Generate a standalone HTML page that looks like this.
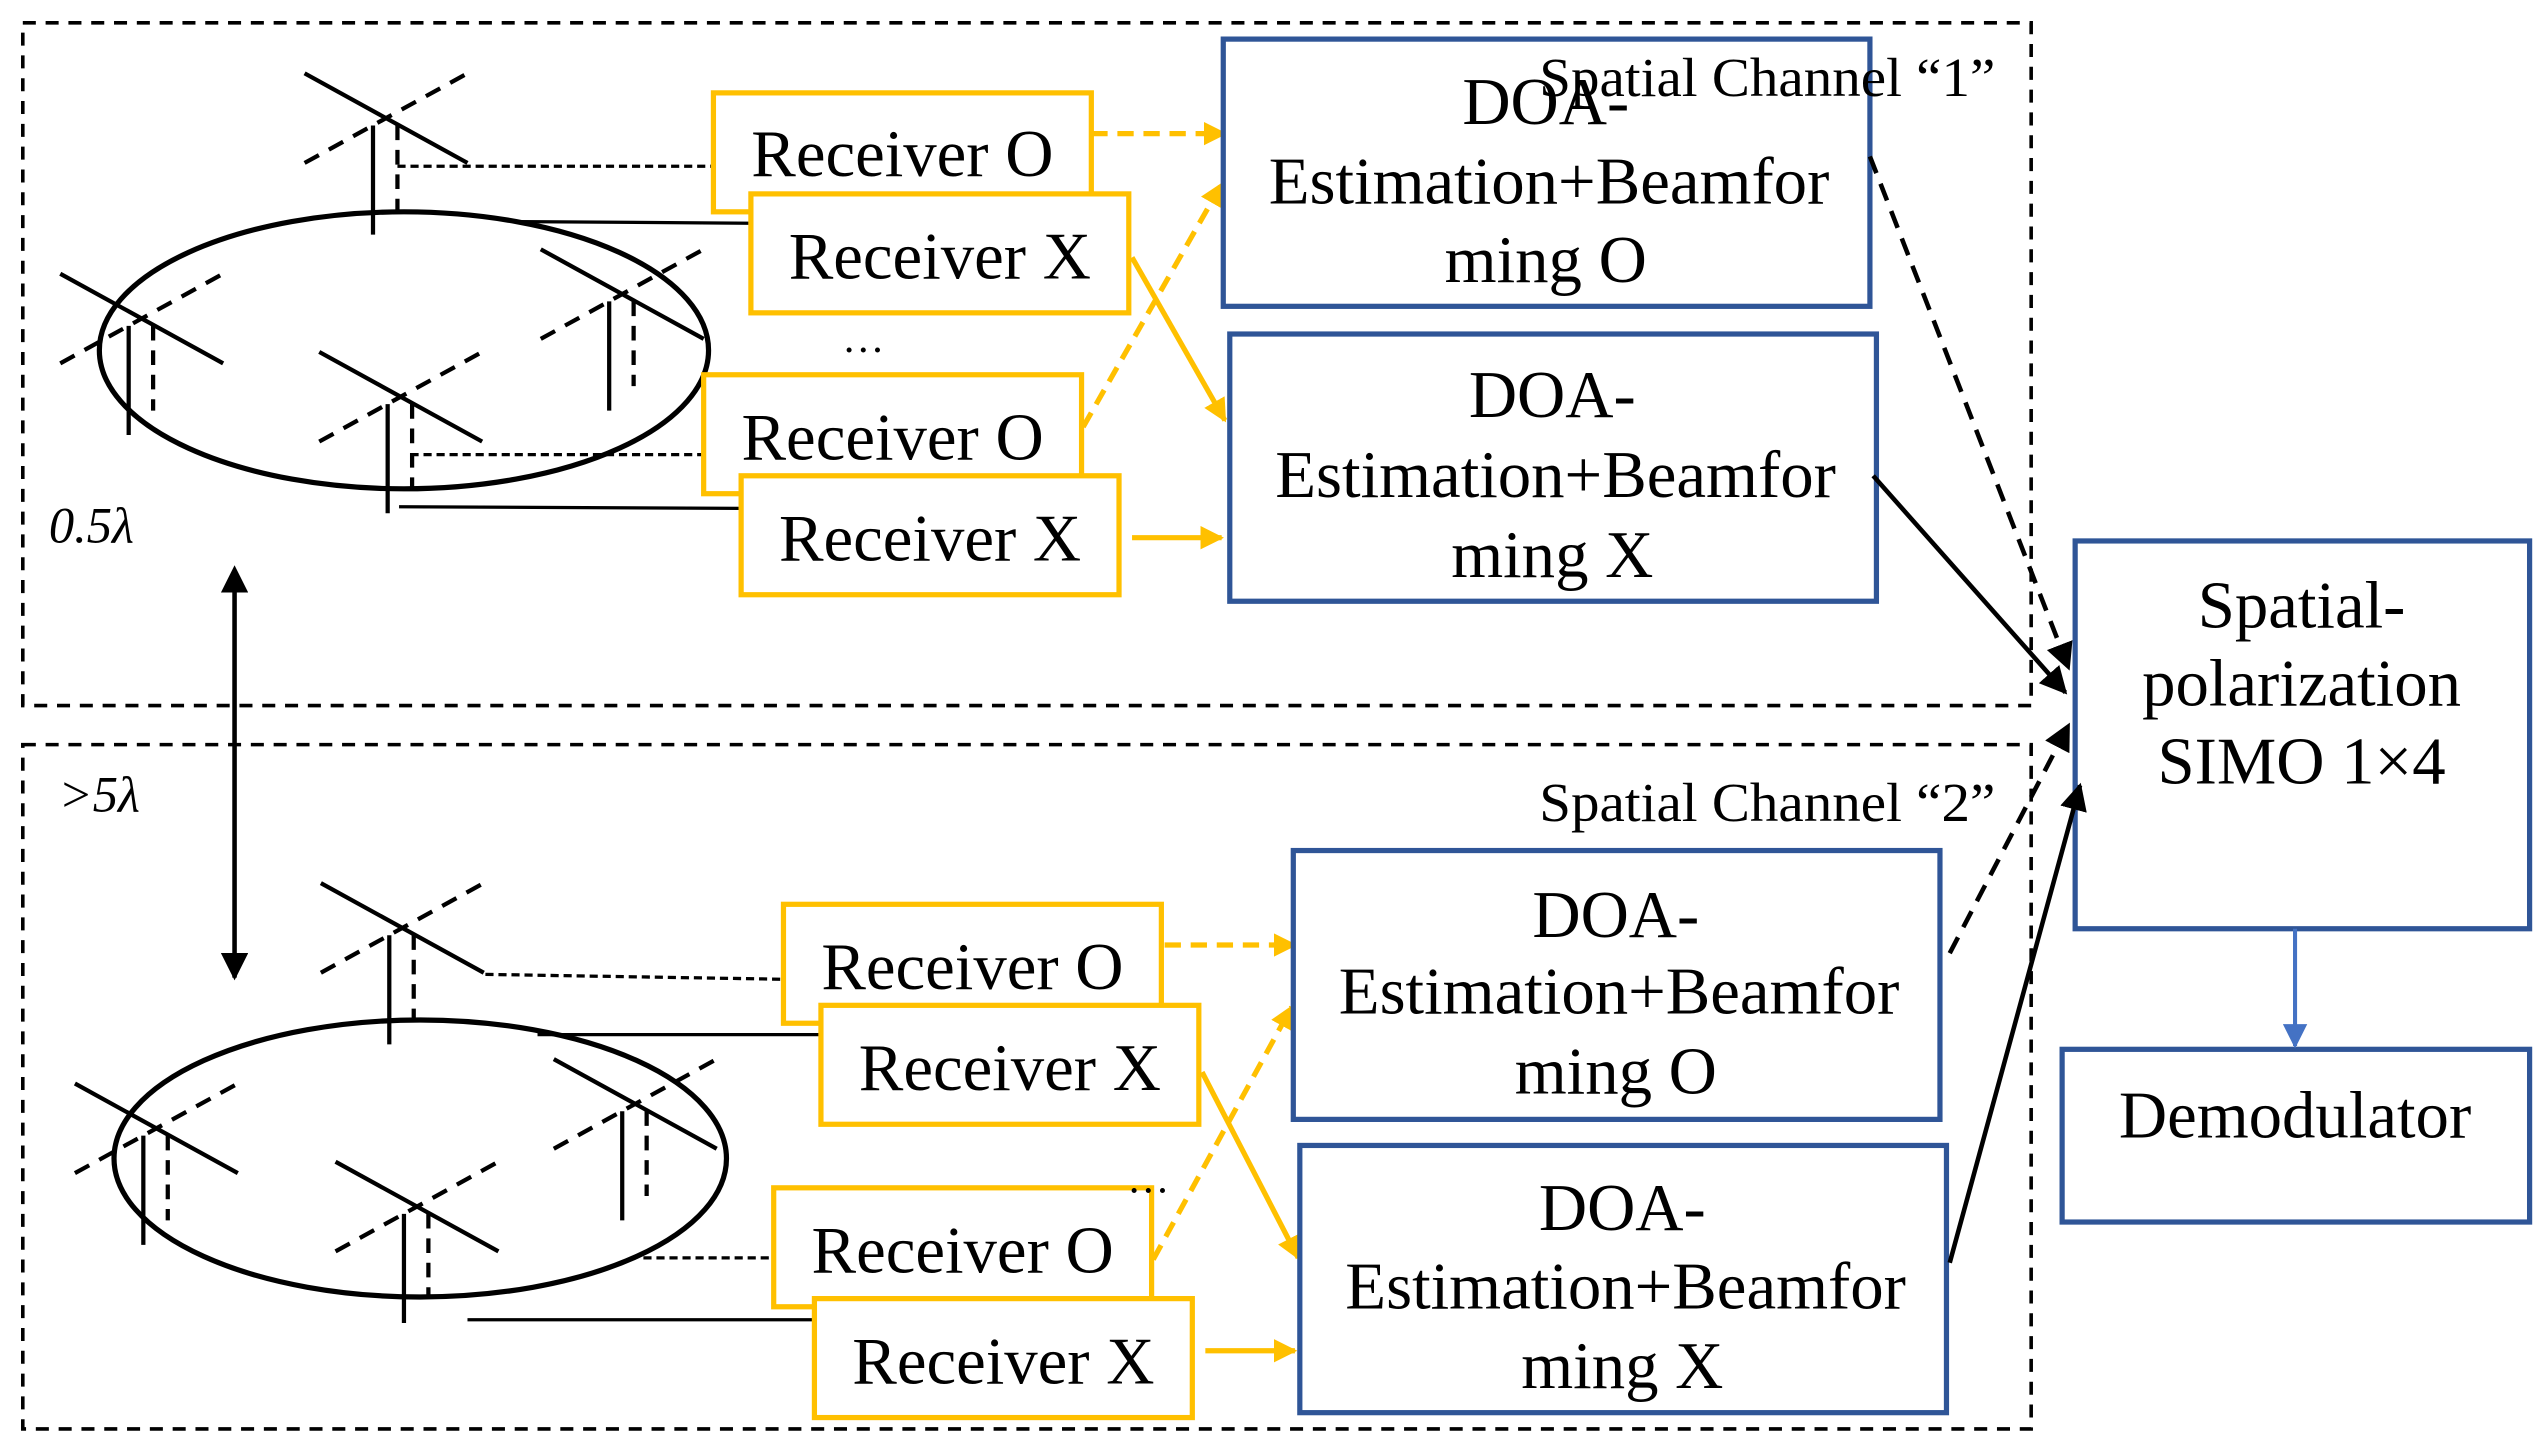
<!DOCTYPE html>
<html><head><meta charset="utf-8"><style>
html,body{margin:0;padding:0;background:#fff;width:2541px;height:1442px;overflow:hidden}
svg{display:block}
text{font-family:"Liberation Serif",serif;fill:#000}
</style></head><body>
<svg width="2541" height="1442" viewBox="0 0 1560 885" preserveAspectRatio="none" xmlns="http://www.w3.org/2000/svg">
<defs>
<marker id="ay" viewBox="0 0 10 10" refX="9" refY="5" markerWidth="4.5" markerHeight="4.5" orient="auto" markerUnits="strokeWidth"><path d="M0,0L10,5L0,10z" fill="#FFC000"/></marker>
<marker id="ab" viewBox="0 0 10 10" refX="9" refY="5" markerWidth="6" markerHeight="6" orient="auto" markerUnits="strokeWidth"><path d="M0,0L10,5L0,10z" fill="#000"/></marker>
<marker id="abs" viewBox="0 0 10 10" refX="1" refY="5" markerWidth="6" markerHeight="6" orient="auto-start-reverse" markerUnits="strokeWidth"><path d="M0,0L10,5L0,10z" fill="#000"/></marker>
<marker id="abl" viewBox="0 0 10 10" refX="9" refY="5" markerWidth="6" markerHeight="6" orient="auto" markerUnits="strokeWidth"><path d="M0,0L10,5L0,10z" fill="#4472C4"/></marker>
<g id="ant" stroke="#000" stroke-width="2.6" fill="none">
<line x1="-50" y1="-27" x2="50" y2="28"/>
<line x1="-50" y1="28" x2="50" y2="-27" stroke-dasharray="10,7"/>
<line x1="-8" y1="5" x2="-8" y2="72"/>
<line x1="7" y1="5" x2="7" y2="57" stroke-dasharray="9,6"/>
</g>
</defs>

<rect x="14" y="14" width="1233" height="419" fill="none" stroke="#000" stroke-width="2.2" stroke-dasharray="8,6"/>
<rect x="14" y="457" width="1233" height="420" fill="none" stroke="#000" stroke-width="2.2" stroke-dasharray="8,6"/>

<ellipse cx="248" cy="215" rx="187" ry="85" fill="none" stroke="#000" stroke-width="3.2"/>
<use href="#ant" x="237" y="72"/>
<use href="#ant" x="87" y="195"/>
<use href="#ant" x="246" y="243"/>
<use href="#ant" x="382" y="180"/>
<g stroke="#000" stroke-width="2" fill="none">
<line x1="244" y1="102" x2="438" y2="102" stroke-dasharray="5,3"/>
<line x1="320" y1="136" x2="461" y2="137"/>
<line x1="252" y1="279" x2="432" y2="279" stroke-dasharray="5,3"/>
<line x1="245" y1="311" x2="455" y2="312"/>
</g>

<ellipse cx="258" cy="711" rx="188" ry="85" fill="none" stroke="#000" stroke-width="3.2"/>
<use href="#ant" x="247" y="569"/>
<use href="#ant" x="96" y="692"/>
<use href="#ant" x="256" y="740"/>
<use href="#ant" x="390" y="677"/>
<g stroke="#000" stroke-width="2" fill="none">
<line x1="298" y1="598" x2="481" y2="601" stroke-dasharray="5,3"/>
<line x1="330" y1="635" x2="504" y2="635"/>
<line x1="395" y1="772" x2="475" y2="772" stroke-dasharray="5,3"/>
<line x1="287" y1="810" x2="500" y2="810"/>
</g>

<line x1="144" y1="362" x2="144" y2="600" stroke="#000" stroke-width="2.8" marker-start="url(#abs)" marker-end="url(#ab)"/>
<text x="30" y="333" font-size="31" font-style="italic">0.5λ</text>
<text x="36" y="498" font-size="31" font-style="italic">&gt;5λ</text>

<g fill="#fff" stroke="#FFC000" stroke-width="3.2">
<rect x="438" y="57" width="232" height="73"/>
<rect x="461" y="119" width="232" height="73"/>
<rect x="432" y="230" width="232" height="73"/>
<rect x="455" y="292" width="232" height="73"/>
<rect x="481" y="555" width="232" height="73"/>
<rect x="504" y="617" width="232" height="73"/>
<rect x="475" y="729" width="232" height="73"/>
<rect x="500" y="797" width="232" height="73"/>
</g>
<g font-size="41" text-anchor="middle">
<text x="554" y="108">Receiver O</text>
<text x="577" y="171">Receiver X</text>
<text x="548" y="282">Receiver O</text>
<text x="571" y="344">Receiver X</text>
<text x="597" y="607">Receiver O</text>
<text x="620" y="669">Receiver X</text>
<text x="591" y="781">Receiver O</text>
<text x="616" y="849">Receiver X</text>
</g>
<text x="530" y="216" font-size="26" text-anchor="middle">…</text>
<text x="705" y="732" font-size="26" text-anchor="middle">…</text>

<g stroke="#FFC000" stroke-width="3.2" fill="none" marker-end="url(#ay)">
<line x1="670" y1="82" x2="752" y2="82" stroke-dasharray="10,6"/>
<line x1="665" y1="262" x2="750" y2="113" stroke-dasharray="10,6"/>
<line x1="695" y1="158" x2="752" y2="258"/>
<line x1="695" y1="330" x2="750" y2="330"/>
<line x1="715" y1="580" x2="795" y2="580" stroke-dasharray="10,6"/>
<line x1="708" y1="773" x2="793" y2="618" stroke-dasharray="10,6"/>
<line x1="738" y1="658" x2="797" y2="772"/>
<line x1="740" y1="829" x2="795" y2="829"/>
</g>

<g fill="#fff" stroke="#2F5597" stroke-width="3.2">
<rect x="751" y="24" width="397" height="164"/>
<rect x="755" y="205" width="397" height="164"/>
<rect x="794" y="522" width="397" height="165"/>
<rect x="798" y="703" width="397" height="164"/>
</g>
<g font-size="41" text-anchor="middle">
<text x="949" y="76">DOA-</text><text x="951" y="125">Estimation+Beamfor</text><text x="949" y="173">ming O</text>
<text x="953" y="256">DOA-</text><text x="955" y="305">Estimation+Beamfor</text><text x="953" y="354">ming X</text>
<text x="992" y="575">DOA-</text><text x="994" y="622">Estimation+Beamfor</text><text x="992" y="671">ming O</text>
<text x="996" y="755">DOA-</text><text x="998" y="803">Estimation+Beamfor</text><text x="996" y="852">ming X</text>
</g>
<text x="1225" y="59" font-size="34" text-anchor="end" textLength="280" lengthAdjust="spacingAndGlyphs">Spatial Channel “1”</text>
<text x="1225" y="504" font-size="34" text-anchor="end" textLength="280" lengthAdjust="spacingAndGlyphs">Spatial Channel “2”</text>

<rect x="1274" y="332" width="279" height="238" fill="#fff" stroke="#2F5597" stroke-width="3.2"/>
<rect x="1266" y="644" width="287" height="106" fill="#fff" stroke="#2F5597" stroke-width="3.2"/>
<g font-size="41" text-anchor="middle">
<text x="1413" y="385">Spatial-</text>
<text x="1413" y="433">polarization</text>
<text x="1413" y="481">SIMO 1×4</text>
<text x="1409" y="698">Demodulator</text>
</g>
<line x1="1409" y1="570" x2="1409" y2="642" stroke="#4472C4" stroke-width="2.5" marker-end="url(#abl)"/>

<g stroke="#000" stroke-width="2.8" fill="none" marker-end="url(#ab)">
<line x1="1148" y1="96" x2="1270" y2="410" stroke-dasharray="11,7"/>
<line x1="1150" y1="292" x2="1268" y2="425"/>
<line x1="1197" y1="585" x2="1270" y2="445" stroke-dasharray="11,7"/>
<line x1="1197" y1="775" x2="1277" y2="482"/>
</g>
</svg>
</body></html>
